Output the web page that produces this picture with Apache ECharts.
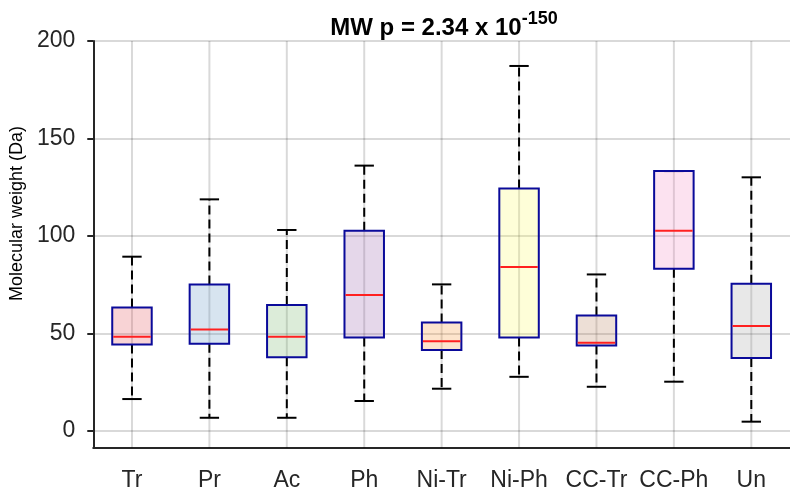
<!DOCTYPE html>
<html>
<head>
<meta charset="utf-8">
<script src="https://cdn.jsdelivr.net/npm/echarts@6/dist/echarts.min.js"></script>
<style>html,body{margin:0;padding:0;background:#fff}#c{width:790px;height:494px}</style>
</head>
<body>
<div id="c"></div>
<script>
const categories = ['Tr', 'Pr', 'Ac', 'Ph', 'Ni-Tr', 'Ni-Ph', 'CC-Tr', 'CC-Ph', 'Un'];
const whiskerLow  = [16.4, 6.8, 6.8, 15.4, 21.7, 27.8, 22.7, 25.3, 4.8];
const q1          = [44.4, 44.8, 37.8, 48.0, 41.5, 48.0, 43.9, 83.2, 37.4];
const median      = [48.4, 52.1, 48.4, 69.7, 46.0, 84.1, 45.3, 102.7, 53.8];
const q3          = [63.4, 75.2, 64.6, 102.7, 55.6, 124.4, 59.3, 133.3, 75.5];
const whiskerHigh = [89.4, 118.8, 103.1, 136.1, 75.2, 187.2, 80.3, 133.3, 130.1];
const yTicks = [0, 50, 100, 150, 200];

const fillColors = [
  'rgba(227,79,87,0.25)', 'rgba(95,147,195,0.25)', 'rgba(115,179,103,0.25)',
  'rgba(151,95,171,0.25)', 'rgba(247,147,51,0.25)', 'rgba(251,251,99,0.25)',
  'rgba(183,127,91,0.25)', 'rgba(243,139,195,0.25)', 'rgba(163,163,163,0.25)'
];

const seriesData = categories.map((c, i) => [i, whiskerLow[i], q1[i], median[i], q3[i], whiskerHigh[i]]);

const FONT = '"Liberation Sans", Arial, Helvetica, sans-serif';
const AXIS = '#262626';
const GRID = 'rgba(0,0,0,0.15)';

function renderItem(params, api) {
  const i = api.value(0);
  const cs = params.coordSys;
  const pLow = api.coord([i, api.value(1)]);
  const pQ1 = api.coord([i, api.value(2)]);
  const pMed = api.coord([i, api.value(3)]);
  const pQ3 = api.coord([i, api.value(4)]);
  const pHigh = api.coord([i, api.value(5)]);
  const band = api.size([1, 0])[0];
  const bw = band * 0.51;
  const cw = band * 0.25;
  const x = pMed[0];
  const dash = { stroke: '#000', lineWidth: 2, lineDash: [9, 5] };
  const solid = { stroke: '#000', lineWidth: 2 };
  const children = [];
  // vertical grid line at the category centre
  children.push({ type: 'line', shape: { x1: x, y1: cs.y, x2: x, y2: cs.y + cs.height },
    style: { stroke: GRID, lineWidth: 2 } });
  if (pHigh[1] < pQ3[1] - 0.5) {
    children.push({ type: 'line', shape: { x1: x, y1: pQ3[1], x2: x, y2: pHigh[1] }, style: dash });
  }
  children.push({ type: 'line', shape: { x1: x - cw / 2, y1: pHigh[1], x2: x + cw / 2, y2: pHigh[1] }, style: solid });
  children.push({ type: 'line', shape: { x1: x, y1: pQ1[1], x2: x, y2: pLow[1] }, style: dash });
  children.push({ type: 'line', shape: { x1: x - cw / 2, y1: pLow[1], x2: x + cw / 2, y2: pLow[1] }, style: solid });
  children.push({ type: 'rect', shape: { x: x - bw / 2, y: pQ3[1], width: bw, height: pQ1[1] - pQ3[1] },
    style: { fill: fillColors[params.dataIndex], stroke: '#0a0a9a', lineWidth: 2 } });
  children.push({ type: 'line', shape: { x1: x - bw / 2 + 1, y1: pMed[1], x2: x + bw / 2 - 1, y2: pMed[1] },
    style: { stroke: '#ff2020', lineWidth: 2 } });
  return { type: 'group', children };
}

const chart = echarts.init(document.getElementById('c'), null, { renderer: 'canvas' });
chart.setOption({
  backgroundColor: '#fff',
  animation: false,
  title: {
    text: '{a|MW p = 2.34 x 10}{b|-150}',
    left: 444, top: 10, padding: 0, textAlign: 'center',
    textStyle: {
      rich: {
        a: { fontFamily: FONT, fontSize: 24, fontWeight: 'bold', color: '#000', verticalAlign: 'bottom' },
        b: { fontFamily: FONT, fontSize: 18, fontWeight: 'bold', color: '#000', verticalAlign: 'bottom', padding: [0, 0, 12, 0] }
      }
    }
  },
  grid: { left: 90, right: -7, top: 41, bottom: 46, containLabel: false },
  xAxis: {
    type: 'category', data: categories, boundaryGap: true,
    axisLine: { onZero: false, lineStyle: { color: AXIS, width: 2 } },
    axisTick: { alignWithLabel: true, length: 7, lineStyle: { color: AXIS, width: 2 } },
    axisLabel: { fontFamily: FONT, fontSize: 23, color: AXIS, margin: 21, interval: 0 },
    splitLine: { show: false }
  },
  yAxis: {
    type: 'value', min: -8.7, max: 200,
    name: 'Molecular weight (Da)', nameLocation: 'middle', nameGap: 62, nameRotate: 90,
    nameTextStyle: { fontFamily: FONT, fontSize: 18, color: '#000', padding: [0, 0, 0, 62] },
    axisLine: { show: true, lineStyle: { color: AXIS, width: 2 } },
    axisTick: { show: true, length: 6, lineStyle: { color: AXIS, width: 2 }, customValues: yTicks },
    axisLabel: { fontFamily: FONT, fontSize: 23, color: AXIS, margin: 18, customValues: yTicks },
    splitLine: { show: true, lineStyle: { color: GRID, width: 2 } }
  },
  series: [{
    type: 'custom',
    renderItem: renderItem,
    encode: { x: 0, y: [1, 2, 3, 4, 5] },
    data: seriesData, z: 3
  }]
});
</script>
</body>
</html>
